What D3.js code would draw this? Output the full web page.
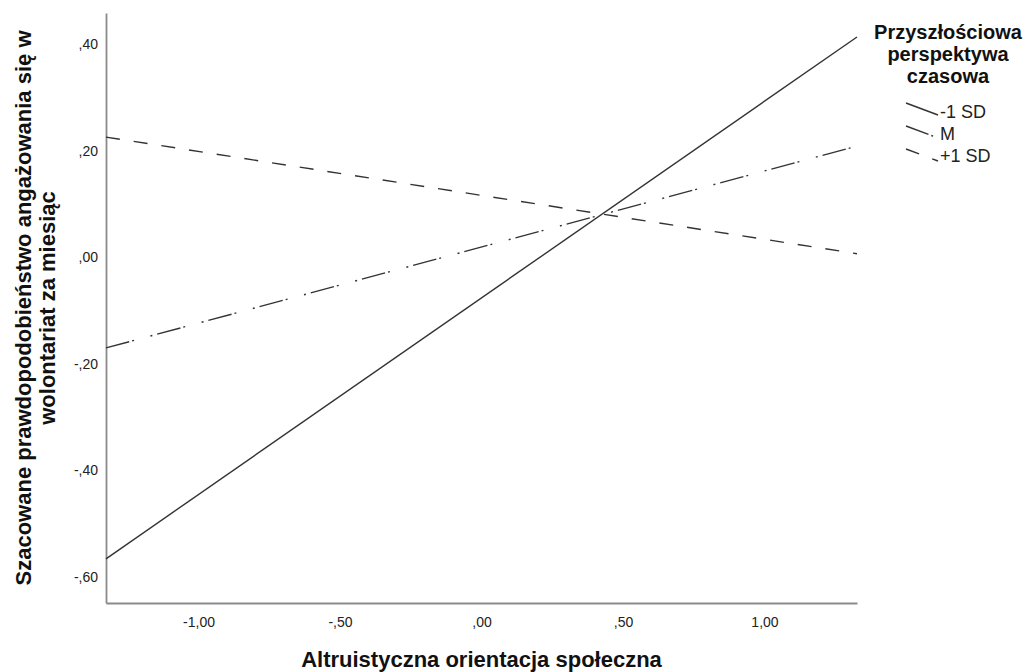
<html>
<head>
  <style>
    body { margin: 0; background: white; font-family: "Liberation Sans", Arial, sans-serif; }
    svg { display: block; }
    .tick text { font-size: 14px; fill: #222; }
  </style>
  <script src="https://cdn.jsdelivr.net/npm/d3@7"></script>
</head>
<body>
<svg id="chart"></svg>
<script>
// values
let xDomain = [-1.327, 1.327]
let yDomain = [-0.649, 0.459]
let xTicks = [-1, -0.5, 0, 0.5, 1]
let yTicks = [-0.6, -0.4, -0.2, 0, 0.2, 0.4]
let xEnds = [-1.327, 1.327]
let seriesNames = ["-1 SD", "M", "+1 SD"]
let lowSD = [-0.566, 0.414]
let meanSD = [-0.170, 0.209]
let highSD = [0.226, 0.007]
let dashes = ["none", "24,3,2,17,2,5", "14,14"]
let legendTitle = ["Przyszłościowa", "perspektywa", "czasowa"]
let xTitle = "Altruistyczna orientacja społeczna"
let yTitle = ["Szacowane prawdopodobieństwo angażowania się w", "wolontariat za miesiąc"]

let width = 1035
let height = 672
let margin = {top: 13, right: 178, bottom: 69, left: 106}

let svg = d3.select("#chart").attr("width", width).attr("height", height)

let x = d3.scaleLinear().domain(xDomain).range([margin.left, width - margin.right])
let y = d3.scaleLinear().domain(yDomain).range([height - margin.bottom, margin.top])

// SPSS style numbers: ,40  -,60  1,00
let fmt = d => d3.format(".2f")(d).replace("\u2212", "-").replace(".", ",").replace(/^(-?)0,/, "$1,")

svg.append("g")
  .attr("transform", `translate(0,${height - margin.bottom})`)
  .call(d3.axisBottom(x).tickValues(xTicks).tickFormat(fmt).tickSize(0).tickPadding(14))
svg.append("g")
  .attr("transform", `translate(${margin.left},0)`)
  .call(d3.axisLeft(y).tickValues(yTicks).tickFormat(fmt).tickSize(0).tickPadding(8))

svg.selectAll(".domain").attr("stroke", "#8a8a8a").attr("stroke-width", 1.8)
svg.selectAll(".tick text").attr("font-family", "Liberation Sans, Arial, sans-serif")

let series = [lowSD, meanSD, highSD]
let line = d3.line().x((d, i) => x(xEnds[i])).y(d => y(d))

svg.append("g").selectAll("path").data(series).enter().append("path")
  .attr("d", d => line(d))
  .attr("fill", "none")
  .attr("stroke", "#333")
  .attr("stroke-width", 1.4)
  .attr("stroke-dasharray", (d, i) => dashes[i])

// axis titles
svg.append("text")
  .attr("x", x(0)).attr("y", 667)
  .attr("text-anchor", "middle")
  .attr("font-size", 22).attr("font-weight", "bold").attr("fill", "#111")
  .text(xTitle)

let yt = svg.append("text")
  .attr("transform", `translate(0,${(margin.top + height - margin.bottom) / 2}) rotate(-90)`)
  .attr("text-anchor", "middle")
  .attr("font-size", 22).attr("font-weight", "bold").attr("fill", "#111")
yt.selectAll("tspan").data(yTitle).enter().append("tspan")
  .attr("x", 0).attr("y", (d, i) => 31 + i * 24)
  .text(d => d)

// legend
svg.append("g").selectAll("text").data(legendTitle).enter().append("text")
  .attr("x", 948).attr("y", (d, i) => 39 + i * 22)
  .attr("text-anchor", "middle")
  .attr("font-size", 20).attr("font-weight", "bold").attr("fill", "#111")
  .text(d => d)

let legend = svg.append("g").selectAll("g").data(seriesNames).enter().append("g")
legend.append("line")
  .attr("x1", 906).attr("y1", (d, i) => 103 + i * 23)
  .attr("x2", 938).attr("y2", (d, i) => 115 + i * 23)
  .attr("stroke", "#333").attr("stroke-width", 1.4)
  .attr("stroke-dasharray", (d, i) => dashes[i])
legend.append("text")
  .attr("x", 940).attr("y", (d, i) => 118 + i * 22)
  .attr("font-size", 18).attr("fill", "#222")
  .text(d => d)
</script>
</body>
</html>
